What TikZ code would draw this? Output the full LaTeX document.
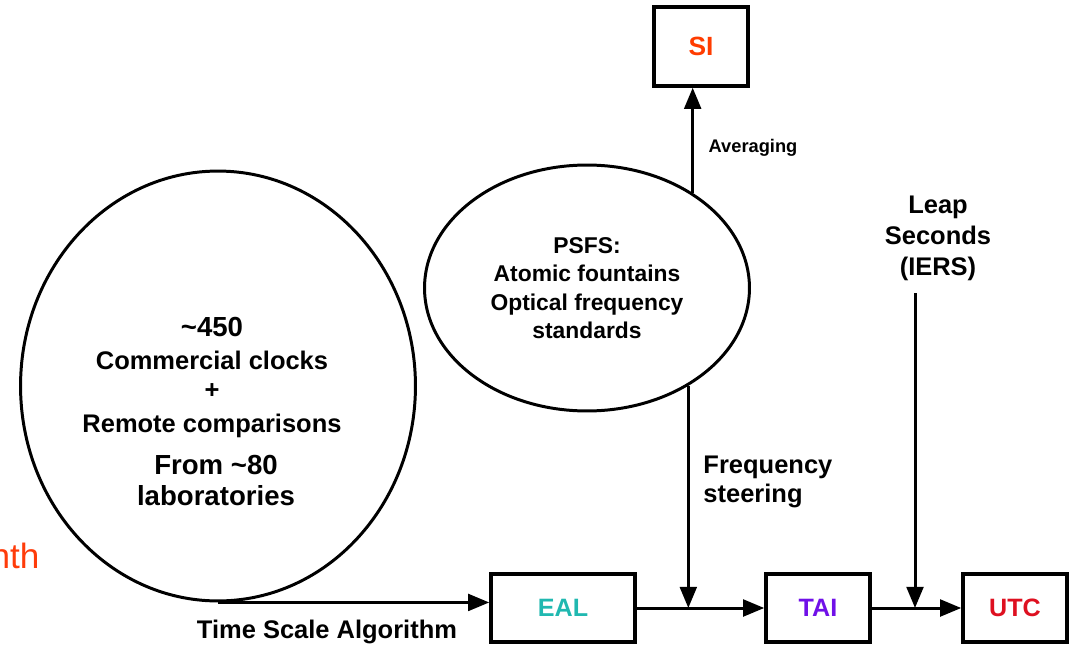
\documentclass[tikz,border=0pt]{standalone}
\usepackage{fontspec}
\setmainfont{Liberation Sans}
\usetikzlibrary{arrows.meta,shapes.geometric}
\definecolor{siorange}{RGB}{255,60,0}
\definecolor{ealteal}{RGB}{32,184,176}
\definecolor{taipurple}{RGB}{112,16,232}
\definecolor{utcred}{RGB}{222,16,32}
\definecolor{nthred}{RGB}{255,60,10}

\begin{document}
\begin{tikzpicture}[x=0.02cm,y=-0.02cm,>={Triangle[length=12pt,width=9.5pt]},
 line width=1.7pt]
 \tikzstyle{box}=[draw,line width=2pt,minimum width=2.08cm,minimum height=1.36cm,
 inner sep=0pt,font=\bfseries\fontsize{14.3}{16}\selectfont]
 \tikzstyle{blob}=[draw,ellipse,inner sep=0pt]
 \tikzstyle{big}=[anchor=base,inner sep=0pt,font=\bfseries\fontsize{15.7}{18}\selectfont]
 \tikzstyle{lbl}=[anchor=base,inner sep=0pt,font=\bfseries\fontsize{14.5}{16.5}\selectfont]
 \useasboundingbox (0,0) rectangle (1069,646);

 % ellipses
 \node[blob,minimum width=7.9cm,minimum height=8.6cm] (clocks) at (218,386) {};
 \node[blob,minimum width=6.5cm,minimum height=4.92cm,align=center,
 font=\bfseries\fontsize{13}{16.2}\selectfont] (psfs) at (587,288)
 {PSFS:\\Atomic fountains\\Optical frequency\\standards};

 \node[big] (n450)    at (212,336) {\textasciitilde450};
 \node[lbl] (ncomm)   at (212,369) {Commercial clocks};
 \node[lbl] (nplus)   at (212,398) {+};
 \node[lbl] (nremote) at (212,432) {Remote comparisons};
 \node[big] (nfrom)   at (216,474) {From \textasciitilde80};
 \node[big] (nlabs)   at (216,505) {laboratories};

 % boxes
 \node[box,minimum width=1.88cm,minimum height=1.58cm,text=siorange,
 font=\bfseries\fontsize{15}{17}\selectfont] (SI) at (701,46.5) {SI};
 \node[box,minimum width=2.88cm,text=ealteal] (EAL) at (563,608) {EAL};
 \node[box,text=taipurple] (TAI) at (818,608) {TAI};
 \node[box,text=utcred] (UTC) at (1015,608) {UTC};

 % labels
 \node[anchor=base,inner sep=0pt,font=\bfseries\fontsize{10.4}{12}\selectfont]
 (avg) at (753,152) {Averaging};
 \node[lbl] (tsa) at (327,638) {Time Scale Algorithm};
 \node[lbl,anchor=base west,align=left] (freq) at (702,502)
 {Frequency\\steering};
 \node[lbl,align=center,font=\bfseries\fontsize{14.5}{17.5}\selectfont]
 (leap) at (938,275) {Leap\\Seconds\\(IERS)};
 \node[anchor=base east,inner sep=0pt,text=nthred,font=\fontsize{20}{24}\selectfont]
 (nth) at (41,568) {nth};

 % connectors
 \coordinate (fsjoin) at (psfs.-44 |- EAL.east);
 \coordinate (leaptop) at (915,293);
 \draw[->] (clocks.south) -- (clocks.south -| EAL.west);
 \draw[->] (EAL.east) -- (TAI.west);
 \draw[->] (TAI.east) -- (UTC.west);
 \draw[->] (psfs.-44) -- (fsjoin);
 \draw[->] (psfs.42) -- (psfs.42 |- SI.south);
 \draw[->] (leaptop) -- (leaptop |- UTC.west);
\end{tikzpicture}
\end{document}
